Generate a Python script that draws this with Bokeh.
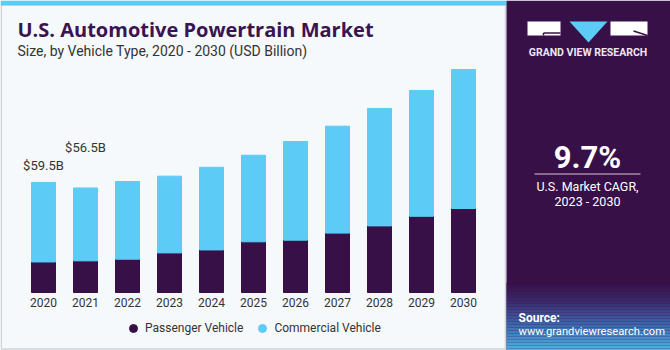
from bokeh.plotting import figure
from bokeh.models import Range1d, BoxAnnotation, Label, Legend, LegendItem, ColumnDataSource, PolyAnnotation
from bokeh.core.properties import value
from bokeh.embed import file_html
from bokeh.resources import INLINE

# ---------------- data ----------------
years = [2020, 2021, 2022, 2023, 2024, 2025, 2026, 2027, 2028, 2029, 2030]
year_labels = ["2020", "2021", "2022", "2023", "2024", "2025", "2026", "2027", "2028", "2029", "2030"]
passenger = [16.5, 17.1, 18.0, 21.4, 23.0, 27.4, 28.3, 32.1, 36.0, 41.2, 45.4]
commercial = [43.0, 39.4, 42.0, 41.5, 44.7, 46.8, 53.3, 57.8, 63.5, 68.0, 75.1]
series_names = ["Passenger Vehicle", "Commercial Vehicle"]
value_label_years = [2020, 2021]
value_labels = ["$59.5B", "$56.5B"]
cagr_text = "9.7%"

# ---------------- layout ----------------
W, H = 670, 350
PX_YEAR = 42.0
FIRST_X = 43.0
BASE_Y = 292.0
PX_VAL = 1.85
x0 = years[0] - FIRST_X / PX_YEAR

def X(px):
    return x0 + px / PX_YEAR

def Y(py):
    return (BASE_Y - py) / PX_VAL

DARK = "#371047"
LIGHT = "#5CCBF6"
BG = "#F5F9FC"
FONT = "Roboto"

p = figure(width=W, height=H, x_range=Range1d(X(0), X(W)), y_range=Range1d(Y(H), Y(0)),
           output_backend="svg", toolbar_location=None, title=None,
           x_axis_location=None, y_axis_location=None, min_border=0)
p.grid.grid_line_color = None
p.outline_line_color = None
p.background_fill_color = BG
p.border_fill_color = BG

def box(l, r, t, b, color, line_color=None, lw=0):
    bx = BoxAnnotation(left=X(l), right=X(r), top=Y(t), bottom=Y(b), fill_color=color, fill_alpha=1,
                       line_color=line_color, line_width=lw, line_alpha=1 if line_color else 0,
                       level="underlay")
    p.add_layout(bx)

# left panel border + top strip
box(0.75, 505, 4, 348.5, BG, "#CED3D7", 1.5)
box(0, 506, 0, 5, LIGHT)
# right panel
box(506, 670, 0, 350, "#381048")
# gradient at the bottom of right panel
stops = [(282, (56, 16, 72)), (300, (58, 44, 110)), (318, (62, 90, 160)), (335, (66, 140, 200)), (350, (85, 185, 232))]
yy = 282
while yy < 350:
    for (a, ca), (b, cb) in zip(stops[:-1], stops[1:]):
        if a <= yy < b:
            t = (yy - a) / (b - a)
            c = tuple(int(ca[k] + (cb[k] - ca[k]) * t) for k in range(3))
            break
    box(506, 670, yy, min(yy + 3, 350), "#%02x%02x%02x" % c)
    yy += 3

# logo
box(527, 560, 21, 35, "white")
box(610, 647, 21, 35, "white")
p.add_layout(PolyAnnotation(xs=[X(569), X(607), X(588)], ys=[Y(21), Y(21), Y(42)],
                            fill_color=LIGHT, fill_alpha=1, line_alpha=0, level="underlay"))
p.segment(x0=[X(543), X(543), X(633)], y0=[Y(32.5), Y(32.5), Y(30.5)],
          x1=[X(560), X(543), X(647)], y1=[Y(32.5), Y(35), Y(35)], line_color="#381048", line_width=1.5)

# bars
src = ColumnDataSource(dict(year=years, passenger=passenger, commercial=commercial))
p.vbar_stack(["passenger", "commercial"], x="year", width=24 / PX_YEAR, color=[DARK, LIGHT], source=src)

# year labels
p.text(x=years, y=[0] * len(years), text=year_labels, y_offset=10, text_align="center",
       text_baseline="middle", text_font=value(FONT), text_font_size="12px", text_color="#333333")

# value labels
totals = {y: a + b for y, a, b in zip(years, passenger, commercial)}
p.text(x=value_label_years, y=[totals[y] for y in value_label_years], text=value_labels,
       y_offset=[-17, -40], text_align="center", text_baseline="middle",
       text_font=value(FONT), text_font_size="13px", text_color="#333333")

# legend (marker renderers placed outside the visible area)
r1 = p.scatter(x=[X(-100)], y=[Y(-100)], marker="circle", color=DARK)
r2 = p.scatter(x=[X(-100)], y=[Y(-100)], marker="circle", color=LIGHT)
legend = Legend(items=[LegendItem(label=series_names[0], renderers=[r1]),
                       LegendItem(label=series_names[1], renderers=[r2])],
                orientation="horizontal", location=(123, 12), padding=0, margin=0, spacing=9,
                label_standoff=2, glyph_width=20, glyph_height=20,
                label_text_font=FONT, label_text_font_size="12px", label_text_color="#333333",
                background_fill_alpha=0, border_line_alpha=0)
p.add_layout(legend)

# texts
def label(px, py, text, size, color, bold=False, align="left", font=FONT):
    p.add_layout(Label(x=X(px), y=Y(py), text=text, text_font=font, text_font_size=size,
                       text_color=color, text_font_style="bold" if bold else "normal",
                       text_align=align, text_baseline="middle"))

label(17, 29, "U.S. Automotive Powertrain Market", "20px", "#3A1350", bold=True, font="Open Sans")
label(17, 50, "Size, by Vehicle Type, 2020 - 2030 (USD Billion)", "14px", "#333333")
label(587.5, 52, "GRAND VIEW RESEARCH", "10.5px", "#EDE6F2", bold=True, align="center")
label(587, 157, cagr_text, "31px", "white", bold=True, align="center")
p.segment(x0=[X(534)], y0=[Y(173.5)], x1=[X(640)], y1=[Y(173.5)], line_color="#CFC6D8", line_width=1.2)
label(587, 186, "U.S. Market CAGR,", "12.5px", "white", align="center")
label(587, 201, "2023 - 2030", "12.5px", "white", align="center")
label(518, 317, "Source:", "12px", "white", bold=True)
label(518, 331, "www.grandviewresearch.com", "11.2px", "white")

open("out.html", "w").write(file_html(p, INLINE))
